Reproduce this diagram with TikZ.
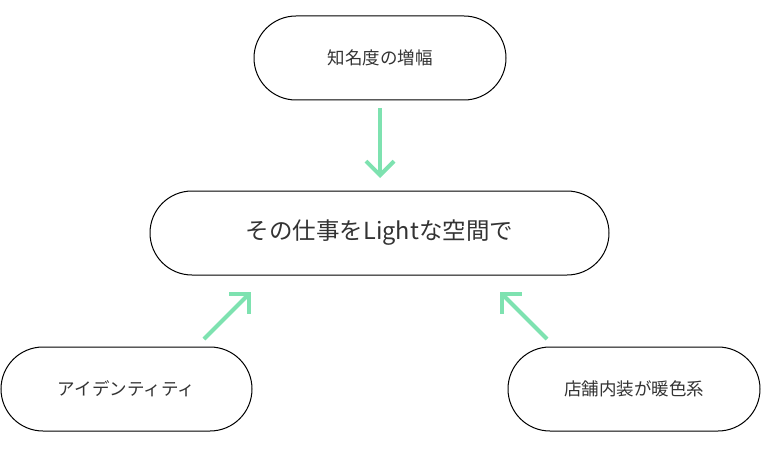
\documentclass[tikz,border=0pt]{standalone}
\usepackage{fontspec}
\newfontfamily\cjk{Noto Sans CJK JP}
\usetikzlibrary{arrows.meta}
\definecolor{arrowgreen}{HTML}{7EE2B0}
\definecolor{txt}{HTML}{333333}
\tikzset{
  pill/.style={draw=black, line width=1pt, rounded corners=42pt, minimum height=84pt, inner sep=0pt, text=txt, font=\cjk\fontsize{17.5}{20}\selectfont},
  bigpill/.style={pill, font=\cjk\fontsize{23.5}{28}\selectfont},
  flow/.style={draw=arrowgreen, line width=4pt, -{Straight Barb[length=14pt,width=28pt,line width=4pt]}}
}
\begin{document}
\begin{tikzpicture}[x=1pt,y=-1pt]
\useasboundingbox (0,0) rectangle (761,460);
\node[pill, minimum width=252pt] (top) at (380,58) {知名度の増幅};
\node[bigpill, minimum width=459pt] (mid) at (379.5,233) {その仕事をLightな空間で};
\node[pill, minimum width=251pt] (bl) at (126.5,389) {アイデンティティ};
\node[pill, minimum width=252pt] (br) at (634,389) {店舗内装が暖色系};
\coordinate (a1s) at (380,108);
\coordinate (a1e) at (380,178);
\coordinate (a2s) at (204,339);
\coordinate (a2e) at (251,292);
\coordinate (a3s) at (547,339);
\coordinate (a3e) at (500,292);
\draw[flow] (a1s) -- (a1e);
\draw[flow] (a2s) -- (a2e);
\draw[flow] (a3s) -- (a3e);
\end{tikzpicture}
\end{document}
